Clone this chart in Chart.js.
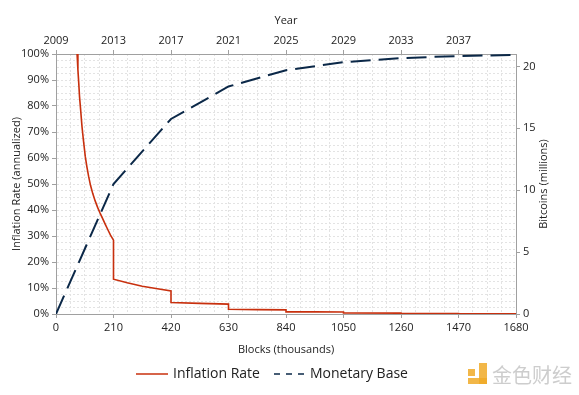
<!DOCTYPE html>
<html>
<head>
<meta charset="utf-8">
<script src="https://cdn.jsdelivr.net/npm/chart.js@4.4.1/dist/chart.umd.min.js"></script>
<style>
  html, body { margin: 0; padding: 0; background: #fff; }
  #wrap { width: 579px; height: 395px; }
</style>
</head>
<body>
<div id="wrap"><canvas id="chart" width="579" height="395"></canvas></div>
<script>
// inflation rate (annualized, %) against blocks (thousands)
const rateBlocks = [77, 80, 83, 86, 90, 95, 100, 107, 113, 119, 126, 134, 143, 152, 161, 170, 180, 189, 199, 210,
  210, 260, 315, 365, 420,
  420, 525, 630,
  630, 735, 840,
  840, 945, 1050,
  1050, 1260,
  1260, 1470,
  1470, 1680];
const rateValues = [100, 94, 89, 83.5, 78.5, 72, 67, 60.5, 56.5, 53, 49.5, 46.4, 43.5, 41, 38.8, 36.8, 34.5, 32.5, 30.3, 28.4,
  13.4, 12.0, 10.7, 9.8, 8.9,
  4.4, 4.1, 3.8,
  1.8, 1.7, 1.6,
  0.8, 0.8, 0.75,
  0.4, 0.35,
  0.2, 0.18,
  0.1, 0.09];

// monetary base (millions of bitcoins)
const baseBlocks = [0, 210, 420, 630, 840, 1050, 1260, 1470, 1680];
const baseValues = [0, 10.5, 15.75, 18.375, 19.69, 20.34, 20.67, 20.84, 20.92];

// tick labels
const blockTicks = [0, 210, 420, 630, 840, 1050, 1260, 1470, 1680];
const yearTicks = [2009, 2013, 2017, 2021, 2025, 2029, 2033, 2037];
const rateTicks = [0, 10, 20, 30, 40, 50, 60, 70, 80, 90, 100];
const baseTicks = [0, 5, 10, 15, 20];

const RED = '#c8300e';
const NAVY = '#0b2848';
const GRID = '#e3e3e3';
const AXIS = '#a0a0a0';

Chart.defaults.font.family = "'Open Sans', sans-serif";
Chart.defaults.font.size = 11;
Chart.defaults.color = '#222';

function minorTicks(min, max, step) {
  const out = [];
  for (let v = min; v <= max + 1e-9; v += step) out.push({ value: v });
  return out;
}

const extras = {
  id: 'extras',
  afterDraw(chart) {
    const ctx = chart.ctx;
    ctx.save();
    // right axis title
    ctx.font = "11px 'Open Sans', sans-serif";
    ctx.fillStyle = '#222';
    ctx.textAlign = 'center';
    ctx.textBaseline = 'middle';
    ctx.translate(544, 184);
    ctx.rotate(-Math.PI / 2);
    ctx.fillText('Bitcoins (millions)', 0, 0);
    ctx.restore();

    // legend
    ctx.save();
    ctx.font = "14px 'Open Sans', sans-serif";
    ctx.textBaseline = 'middle';
    ctx.fillStyle = '#222';
    ctx.lineWidth = 1.5;
    ctx.strokeStyle = RED;
    ctx.beginPath(); ctx.moveTo(136, 374); ctx.lineTo(168, 374); ctx.stroke();
    ctx.fillText('Inflation Rate', 173, 374);
    ctx.strokeStyle = NAVY;
    ctx.setLineDash([6, 6]);
    ctx.beginPath(); ctx.moveTo(274, 374); ctx.lineTo(308, 374); ctx.stroke();
    ctx.setLineDash([]);
    ctx.fillText('Monetary Base', 310, 374);
    ctx.restore();

    // watermark
    ctx.save();
    ctx.fillStyle = 'rgba(240,170,40,0.85)';
    ctx.fillRect(468, 369, 7, 7);
    ctx.fillRect(479, 363, 8, 21);
    ctx.fillRect(468, 378, 19, 6);
    ctx.font = "20px 'Noto Sans CJK SC', sans-serif";
    ctx.fillStyle = 'rgba(200,200,200,0.9)';
    ctx.textBaseline = 'middle';
    ctx.fillText('金色财经', 492, 375);
    ctx.restore();
  }
};

new Chart(document.getElementById('chart').getContext('2d'), {
  type: 'line',
  data: {
    datasets: [{
      label: 'Inflation Rate',
      data: rateBlocks.map((b, i) => ({ x: b, y: rateValues[i] })),
      xAxisID: 'x',
      yAxisID: 'y',
      borderColor: RED,
      borderWidth: 1.6,
      pointRadius: 0,
      tension: 0,
      fill: false
    }, {
      label: 'Monetary Base',
      data: baseBlocks.map((b, i) => ({ x: b, y: baseValues[i] })),
      xAxisID: 'x',
      yAxisID: 'y2',
      borderColor: NAVY,
      borderWidth: 2,
      borderDash: [20, 8],
      pointRadius: 0,
      tension: 0,
      fill: false
    }]
  },
  options: {
    responsive: false,
    animation: false,
    layout: { padding: { left: 0, right: 0, top: 0, bottom: 39 } },
    plugins: {
      legend: { display: false },
      tooltip: { enabled: false }
    },
    scales: {
      x: {
        type: 'linear',
        position: 'bottom',
        min: 0,
        max: 1680,
        afterBuildTicks: s => { s.ticks = minorTicks(0, 1680, 52.5); },
        afterFit: s => { s.height = 42; },
        ticks: {
          autoSkip: false,
          maxRotation: 0,
          padding: 3,
          callback: v => blockTicks.includes(v) ? String(v) : ''
        },
        grid: {
          color: GRID,
          tickLength: 4,
          tickColor: c => (c.tick && blockTicks.includes(c.tick.value)) ? AXIS : 'rgba(0,0,0,0)',
          tickBorderDash: []
        },
        border: { color: AXIS, dash: [2, 2] },
        title: { display: true, text: 'Blocks (thousands)', padding: { top: 4, bottom: 0 } }
      },
      x2: {
        type: 'linear',
        position: 'top',
        min: 2009,
        max: 2041,
        afterBuildTicks: s => { s.ticks = yearTicks.map(v => ({ value: v })); },
        afterFit: s => { s.height = 54; },
        ticks: { autoSkip: false, maxRotation: 0, padding: 3, callback: v => String(v) },
        grid: { drawOnChartArea: false, tickLength: 4, tickColor: AXIS },
        border: { color: AXIS },
        title: { display: true, text: 'Year', padding: { top: 14, bottom: 0 } }
      },
      y: {
        type: 'linear',
        position: 'left',
        min: 0,
        max: 100,
        afterBuildTicks: s => { s.ticks = minorTicks(0, 100, 2.5); },
        afterFit: s => { s.width = 56; },
        ticks: {
          autoSkip: false,
          padding: 3,
          callback: v => rateTicks.includes(v) ? v + '%' : ''
        },
        grid: {
          color: GRID,
          tickLength: 4,
          tickColor: c => (c.tick && rateTicks.includes(c.tick.value)) ? AXIS : 'rgba(0,0,0,0)',
          tickBorderDash: []
        },
        border: { color: AXIS, dash: [2, 2] },
        title: { display: true, text: 'Inflation Rate (annualized)', padding: { top: 10, bottom: 0 } }
      },
      y2: {
        type: 'linear',
        position: 'right',
        min: 0,
        max: 21,
        afterBuildTicks: s => { s.ticks = baseTicks.map(v => ({ value: v })); },
        afterFit: s => { s.width = 63; },
        ticks: { autoSkip: false, padding: 3, callback: v => String(v) },
        grid: { drawOnChartArea: false, tickLength: 4, tickColor: AXIS },
        border: { color: AXIS }
      }
    }
  },
  plugins: [extras]
});
</script>
</body>
</html>
